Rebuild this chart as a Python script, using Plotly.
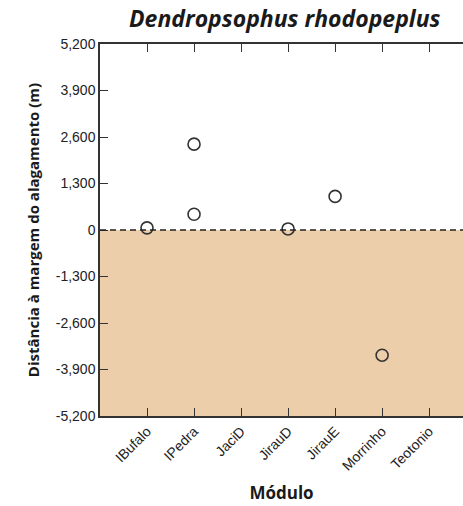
import plotly.graph_objects as go

# Sampling modules along the river (x axis categories)
modules = ["IBufalo", "IPedra", "JaciD", "JirauD", "JirauE", "Morrinho", "Teotonio"]

# Records of Dendropsophus rhodopeplus: module and distance to flood margin (m)
record_module = ["IBufalo", "IPedra", "IPedra", "JirauD", "JirauE", "Morrinho"]
record_distance = [60, 2400, 440, 30, 940, -3500]

# Y axis ticks and their labels
y_ticks = [5200, 3900, 2600, 1300, 0, -1300, -2600, -3900, -5200]
y_tick_labels = ["5,200", "3,900", "2,600", "1,300", "0",
                 "-1,300", "-2,600", "-3,900", "-5,200"]
y_min, y_max = -5200, 5200

fig = go.Figure()

fig.add_trace(go.Scatter(
    x=record_module,
    y=record_distance,
    mode="markers",
    marker=dict(symbol="circle-open", size=12, color="#333333",
                line=dict(width=1.6)),
    showlegend=False,
    cliponaxis=False,
))

# Flooded zone below the margin
fig.add_shape(type="rect", xref="x domain", yref="y",
              x0=0, x1=1, y0=y_min, y1=0,
              fillcolor="#EDCEAA", line=dict(width=0), layer="below")
# Flood margin line
fig.add_shape(type="line", xref="x domain", yref="y",
              x0=0, x1=1, y0=0, y1=0,
              line=dict(color="#222222", width=1.5, dash="6px,4px"),
              layer="above")

tick_font = dict(family="Liberation Sans, Arial", size=14, color="#222222")

fig.update_layout(
    width=463, height=506,
    margin=dict(l=100, r=0, t=44, b=90),
    paper_bgcolor="white", plot_bgcolor="white",
    title=dict(text="<b><i>Dendropsophus rhodopeplus</i></b>",
               font=dict(family="Open Sans", size=23, color="#1a1a1a"),
               x=0.615, xanchor="center", y=0.962, yanchor="middle"),
    xaxis=dict(
        categoryorder="array", categoryarray=modules,
        range=[-1, 6.72],
        showline=True, linecolor="#333333", linewidth=1.5, mirror="ticks",
        ticks="inside", ticklen=8, tickwidth=1.2, tickcolor="#333333",
        tickangle=-45, tickfont=tick_font,
        showgrid=False, zeroline=False,
        title=dict(text="<b>Módulo</b>",
                   font=dict(family="Open Sans", size=17, color="#1a1a1a"),
                   standoff=14),
    ),
    yaxis=dict(
        range=[y_min, y_max],
        tickvals=y_ticks, ticktext=y_tick_labels,
        showline=True, linecolor="#333333", linewidth=1.5, mirror=False,
        ticks="inside", ticklen=8, tickwidth=1.2, tickcolor="#333333",
        tickfont=tick_font,
        showgrid=False, zeroline=False,
        title=dict(text="<b>Distância à margem do alagamento (m)</b>",
                   font=dict(family="Open Sans", size=15, color="#1a1a1a"),
                   standoff=12),
    ),
)

fig.write_html("out.html")
